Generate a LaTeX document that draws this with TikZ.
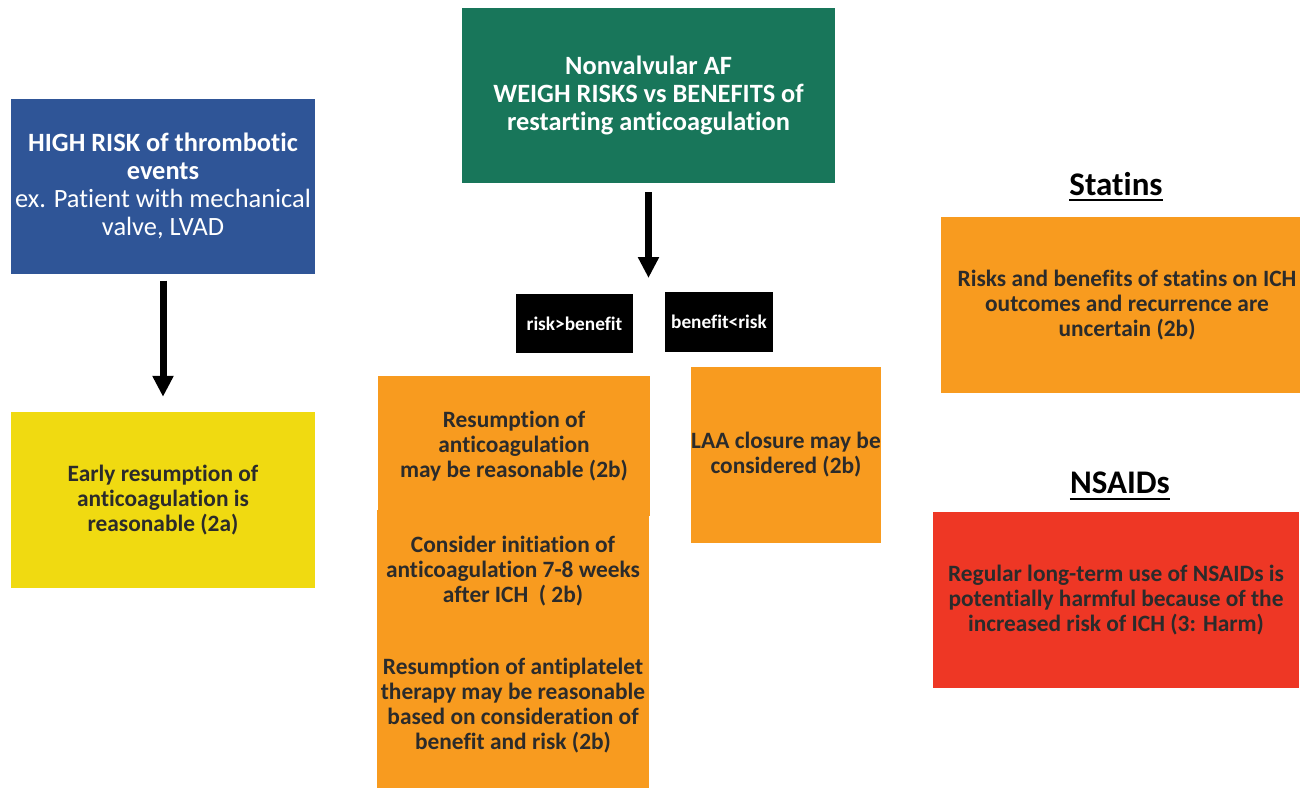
\documentclass[tikz,border=0pt]{standalone}
\usepackage{fontspec}
\setmainfont{Carlito}[Ligatures=NoCommon]
\usetikzlibrary{arrows.meta}
\definecolor{cblue}{HTML}{2F5597}
\definecolor{cgreen}{HTML}{18765A}
\definecolor{cyellow}{HTML}{F0DA11}
\definecolor{corange}{HTML}{F89B1F}
\definecolor{cred}{HTML}{EE3725}
\definecolor{ctext}{HTML}{2B2B2B}
\begin{document}
\begin{tikzpicture}[x=1pt,y=-1pt,
  box/.style={rectangle, inner sep=0pt, align=center},
  darktext/.style={text=ctext, font=\fontsize{23.4}{25}\selectfont\bfseries, align=center},
  whitetext/.style={text=white, font=\fontsize{26.4}{28}\selectfont, align=center},
  bigarrow/.style={line width=7pt, -{Triangle[length=21pt,width=20pt]}},
  titletext/.style={font=\fontsize{33}{36}\selectfont\bfseries, inner sep=0pt, anchor=base},
  underl/.style={line width=2.5pt},
  tag/.style={rectangle, fill=black, text=white, font=\fontsize{19.3}{22}\selectfont\bfseries, inner sep=0pt}
]
\useasboundingbox (0,0) rectangle (1300,788);

% left column
\node[box, whitetext, fill=cblue, minimum width=304pt, minimum height=175pt] (blue) at (163,186)
  {{\bfseries HIGH RISK of thrombotic}\\{\bfseries events}\\ex. Patient with mechanical\\valve, LVAD};
\node[box, darktext, fill=cyellow, minimum width=304pt, minimum height=176pt] (yellow) at (163,500)
  {Early resumption of\\anticoagulation is\\reasonable (2a)};
\draw[bigarrow, shorten <=7pt, shorten >=15pt] (blue.south) -- (yellow.north);

% middle column
\node[box, whitetext, font=\fontsize{26.4}{28}\selectfont\bfseries, fill=cgreen, minimum width=373pt, minimum height=175pt] (green) at (648.5,95.5)
  {Nonvalvular AF\\WEIGH RISKS vs BENEFITS of\\restarting anticoagulation};
\coordinate (midend) at (648.5,278);
\draw[bigarrow, shorten <=9pt] (green.south) -- (midend);

\node[tag, minimum width=117pt, minimum height=59pt] (rb) at (574.5,323.5) {risk>benefit};
\node[tag, minimum width=108pt, minimum height=60pt] (br) at (719,322) {benefit<risk};

\node[box, fill=corange, minimum width=272pt, minimum height=278pt] (ob2) at (513,649) {};
\node[box, darktext, fill=corange, minimum width=272pt, minimum height=140pt] (ob1) at (514,446)
  {Resumption of\\anticoagulation\\may be reasonable (2b)};
\node[darktext] (t1) at (513,571) {Consider initiation of\\anticoagulation 7-8 weeks\\after ICH\ \ ( 2b)};
\node[darktext] (t2) at (513,706) {Resumption of antiplatelet\\therapy may be reasonable\\based on consideration of\\benefit and risk (2b)};

\node[box, darktext, fill=corange, minimum width=188pt, minimum height=176pt] (laa) at (786,455)
  {LAA closure may be\\considered (2b)};

% right column
\node[titletext] (sttitle) at (1116,195) {Statins};
\draw[underl] ([yshift=-5pt]sttitle.base west) -- ([yshift=-5pt]sttitle.base east);
\node[box, fill=corange, minimum width=359pt, minimum height=176pt] (statins) at (1120.5,305) {};
\node[darktext] (sttext) at (1127,305)
  {Risks and benefits of statins on ICH\\outcomes and recurrence are\\uncertain (2b)};

\node[titletext] (nstitle) at (1120,493) {NSAIDs};
\draw[underl] ([yshift=-6pt]nstitle.base west) -- ([yshift=-6pt]nstitle.base east);
\node[box, darktext, fill=cred, minimum width=366pt, minimum height=176pt] (nsaids) at (1116,600)
  {Regular long-term use of NSAIDs is\\potentially harmful because of the\\increased risk of ICH (3: Harm)};
\end{tikzpicture}
\end{document}
